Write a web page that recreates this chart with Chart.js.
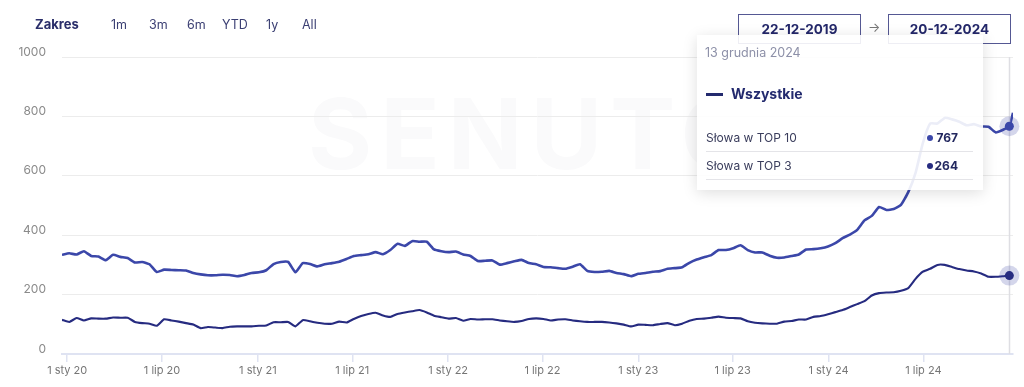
<!DOCTYPE html>
<html>
<head>
<meta charset="utf-8">
<script src="https://cdn.jsdelivr.net/npm/chart.js@4.4.1/dist/chart.umd.min.js"></script>
<style>
body{margin:0;background:#fff;font-family:Inter,"Noto Sans",sans-serif;}
#wrap{position:relative;width:1024px;height:387px;overflow:hidden;}
#mark{position:absolute;left:308px;top:74px;font:700 98px Inter,sans-serif;color:rgba(40,40,70,0.025);letter-spacing:8px;}
canvas{position:absolute;left:0;top:0;}
.zak{position:absolute;left:35px;top:16px;font-weight:700;font-size:13px;color:#2a2e6a;}
.rng{position:absolute;top:17px;font-size:12.5px;color:#3b3f73;}
.box{position:absolute;top:14px;width:121px;height:28px;border:1.5px solid #555893;font-weight:700;font-size:13.5px;color:#24286a;text-align:center;line-height:29px;}
.arrow{position:absolute;left:868px;top:19px;font-size:13px;color:#777;}
#tip{position:absolute;left:697px;top:35px;width:286px;height:155px;background:rgba(255,255,255,0.9);box-shadow:0 3px 14px rgba(0,0,0,0.13);}
#tip .date{position:absolute;left:8px;top:10px;font-size:12.5px;color:#8d90a8;}
#tip .dash{position:absolute;left:9px;top:58px;width:17px;height:3px;background:#232a6e;}
#tip .name{position:absolute;left:34px;top:50px;font-weight:700;font-size:14px;color:#232a6e;}
#tip .row{position:absolute;left:9px;width:267px;height:28px;border-bottom:1px solid #e4e4e8;font-size:12px;color:#3a3d5c;}
#tip .row span.l{position:absolute;left:0;top:7px;}
#tip .row span.r{position:absolute;right:15px;top:7px;font-weight:700;color:#23285f;}
#tip .row i{position:absolute;right:40px;top:12px;width:6px;height:6px;border-radius:50%;}
</style>
</head>
<body>
<div id="wrap">
  <div id="mark">SENUTO</div>
  <canvas id="myChart" width="1024" height="387"></canvas>
  <div class="zak">Zakres</div>
  <div class="rng" style="left:111px">1m</div>
  <div class="rng" style="left:149px">3m</div>
  <div class="rng" style="left:187px">6m</div>
  <div class="rng" style="left:222px">YTD</div>
  <div class="rng" style="left:266px">1y</div>
  <div class="rng" style="left:302px">All</div>
  <div class="box" style="left:738px">22-12-2019</div>
  <div class="arrow">→</div>
  <div class="box" style="left:888px">20-12-2024</div>
  <div id="tip"></div>
</div>
<script>
// days counted from 1 Jan 2020; data every 14 days from 22-12-2019, plus the last two weeks
var days = [];
for (var d = -10; d <= 1796; d += 14) days.push(d);
days.push(1808, 1815);

var top10 = [334,339,335,346,330,328,316,334,327,323,308,310,302,276,284,283,282,281,273,268,
  265,265,267,266,262,266,273,275,282,303,310,310,275,306,303,295,302,306,311,320,
  330,333,336,343,336,350,371,364,380,378,378,352,346,343,345,335,330,313,314,315,
  301,306,312,317,306,302,293,292,289,287,294,302,280,276,277,280,273,269,262,270,
  273,277,279,287,289,292,307,318,326,333,350,350,356,366,350,342,342,331,324,325,
  330,335,352,353,356,362,373,390,402,418,450,465,495,485,488,502,545,610,710,776,
  776,795,790,782,770,774,766,765,746,755,767,812];

var top3 = [115,108,121,113,120,119,119,123,122,122,108,104,102,95,117,113,109,104,99,87,
  91,89,87,92,93,93,93,95,96,107,107,108,93,114,110,105,102,102,109,106,
  118,128,135,139,130,125,135,140,144,148,140,129,124,119,121,112,118,116,117,117,
  113,110,108,111,118,120,118,113,116,117,113,110,108,108,108,106,103,99,93,99,
  98,97,101,104,97,102,112,118,119,122,126,122,121,120,110,105,103,102,102,109,
  111,116,116,125,128,134,141,148,158,168,178,197,205,207,208,213,222,253,277,287,
  300,300,293,286,281,278,271,260,260,262,264,264];

var seriesNames = ['Słowa w TOP 10', 'Słowa w TOP 3'];
var seriesColors = ['#3b47a9', '#262b80'];

var tickDays = [0,182,366,547,731,912,1096,1277,1461,1643];
var tickLabels = ['1 sty 20','1 lip 20','1 sty 21','1 lip 21','1 sty 22','1 lip 22','1 sty 23','1 lip 23','1 sty 24','1 lip 24'];
var yTicks = [0,200,400,600,800,1000];

var months = ['stycznia','lutego','marca','kwietnia','maja','czerwca','lipca','sierpnia','września','października','listopada','grudnia'];
var hoverIndex = 130;

function pts(vals){
  return vals.map(function(v,i){ return {x: days[i], y: v}; });
}

var hoverPlugin = {
  id: 'hover',
  afterDatasetsDraw: function(chart){
    var c = chart.ctx, a = chart.chartArea;
    var p0 = chart.getDatasetMeta(0).data[hoverIndex];
    c.save();
    c.strokeStyle = '#dedee3';
    c.lineWidth = 1.5;
    c.beginPath();
    c.moveTo(Math.round(p0.x)+0.5, a.top);
    c.lineTo(Math.round(p0.x)+0.5, a.bottom);
    c.stroke();
    for (var k = 0; k < 2; k++){
      var p = chart.getDatasetMeta(k).data[hoverIndex];
      c.fillStyle = 'rgba(60,70,165,0.22)';
      c.beginPath(); c.arc(p.x, p.y, 10, 0, Math.PI*2); c.fill();
      c.fillStyle = seriesColors[k];
      c.beginPath(); c.arc(p.x, p.y, 4.5, 0, Math.PI*2); c.fill();
    }
    c.restore();
  }
};

const ctx = document.getElementById('myChart').getContext('2d');
var myChart = new Chart(ctx, {
  type: 'line',
  data: {
    datasets: [
      {label: seriesNames[0], data: pts(top10), borderColor: seriesColors[0], borderWidth: 2.6, tension: 0.15},
      {label: seriesNames[1], data: pts(top3), borderColor: seriesColors[1], borderWidth: 2.1, tension: 0.15}
    ]
  },
  options: {
    responsive: false,
    animation: false,
    layout: {padding: {left: 0, right: 11, top: 57, bottom: 0}},
    elements: {point: {radius: 0, hoverRadius: 0}},
    plugins: {legend: {display: false}, tooltip: {enabled: false}},
    scales: {
      x: {
        type: 'linear', min: -10, max: 1815,
        afterBuildTicks: function(s){ s.ticks = tickDays.map(function(v){ return {value: v}; }); },
        afterFit: function(s){ s.height = 33; },
        ticks: {
          autoSkip: false, maxRotation: 0, padding: 2,
          color: '#767676', font: {family: 'Inter', size: 11},
          callback: function(v){ var i = tickDays.indexOf(v); return i < 0 ? '' : tickLabels[i]; }
        },
        grid: {drawOnChartArea: false, drawTicks: true, tickLength: 8, color: '#dfe3f2', lineWidth: 1.5},
        border: {color: '#dfe3f2', width: 2}
      },
      y: {
        min: 0, max: 1000,
        afterBuildTicks: function(s){ s.ticks = yTicks.map(function(v){ return {value: v}; }); },
        afterFit: function(s){ s.width = 62; },
        ticks: {
          padding: 16, labelOffset: -5, color: '#8a8a8a', font: {family: 'Inter', size: 12},
          callback: function(v){ return String(v); }
        },
        grid: {drawTicks: false, color: '#ececec'},
        border: {display: false}
      }
    }
  },
  plugins: [hoverPlugin]
});

// tooltip box for the hovered week
(function(){
  var dt = new Date(Date.UTC(2020,0,1) + days[hoverIndex]*86400000);
  var html = '<div class="date">' + dt.getUTCDate() + ' ' + months[dt.getUTCMonth()] + ' ' + dt.getUTCFullYear() + '</div>';
  html += '<div class="dash"></div><div class="name">Wszystkie</div>';
  var vals = [top10[hoverIndex], top3[hoverIndex]];
  for (var k = 0; k < 2; k++){
    html += '<div class="row" style="top:' + (88 + k*28) + 'px"><span class="l">' + seriesNames[k] +
      '</span><i style="background:' + seriesColors[k] + '"></i><span class="r">' + vals[k] + '</span></div>';
  }
  document.getElementById('tip').innerHTML = html;
})();
</script>
</body>
</html>
